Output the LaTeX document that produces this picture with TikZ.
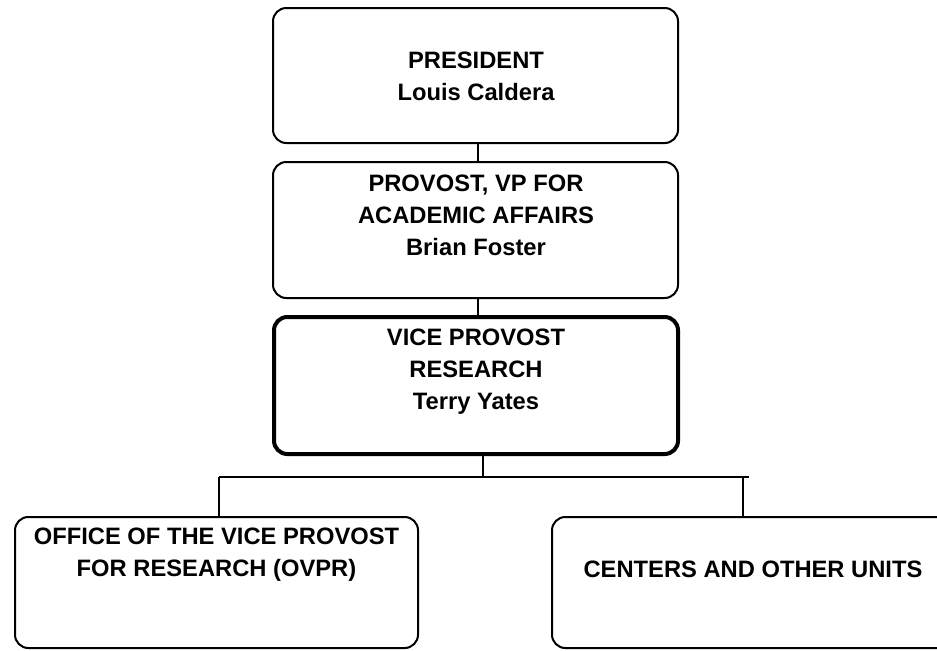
\documentclass[tikz,border=0pt]{standalone}
\usepackage{fontspec}
\setmainfont{Liberation Sans}[BoldFont={Liberation Sans Bold}]
\usetikzlibrary{positioning}

\begin{document}
\begin{tikzpicture}[
    x=0.75pt, y=-0.75pt,
    box/.style={rectangle, draw, rounded corners=10pt, line width=1.5pt, minimum width=303.75pt, minimum height=101.25pt},
    bigbox/.style={box, line width=3pt},
    txt/.style={align=center, inner sep=0pt, font=\bfseries\fontsize{17.8}{24}\selectfont},
    link/.style={line width=1.5pt}
]
\useasboundingbox (0,0) rectangle (937,650);

% Boxes
\node[box] (pres) at (475.5,75.5) {};
\node[box, minimum height=102pt] (prov) at (475.5,230) {};
\node[bigbox, minimum width=303pt, minimum height=102.75pt] (vp) at (476,385.5) {};
\node[box, minimum width=302.25pt, minimum height=98.25pt] (ovpr) at (216.5,582.5) {};
\node[box, minimum width=302.25pt, minimum height=98.25pt] (units) at (753.5,582.5) {};

% Texts
\node[txt] (prestxt) at (476,76.5) {PRESIDENT\\Louis Caldera};
\node[txt] (provtxt) at (476,215) {PROVOST, VP FOR\\ACADEMIC AFFAIRS\\Brian Foster};
\node[txt] (vptxt) at (476,372) {VICE PROVOST\\RESEARCH\\Terry Yates};
\node[txt] (ovprtxt) at (216.5,555) {OFFICE OF THE VICE PROVOST\\FOR RESEARCH (OVPR)};
\node[txt] (unitstxt) at (753,569) {CENTERS AND OTHER UNITS};

% Lines
\coordinate (spine) at (478,0);
\coordinate (bus) at (483,477);
\coordinate (busl) at (219,477);
\coordinate (busr) at (749,477);
\coordinate (dropr) at (743,477);
\draw[link] (pres.south -| spine) -- (prov.north -| spine);
\draw[link] (prov.south -| spine) -- (vp.north -| spine);
\draw[link] (vp.south -| bus) -- (bus);
\draw[link] (busl) -- (busr);
\draw[link] (busl) -- (ovpr.north -| busl);
\draw[link] (dropr) -- (units.north -| dropr);
\end{tikzpicture}
\end{document}
